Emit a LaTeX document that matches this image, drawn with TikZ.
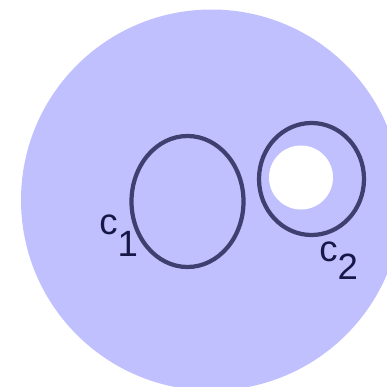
\documentclass[tikz,border=0pt]{standalone}
\usepackage{fontspec}
\setmainfont{Liberation Sans}
\definecolor{discFill}{RGB}{192,192,255}
\definecolor{ringLine}{RGB}{64,64,112}
\definecolor{labelInk}{RGB}{24,24,72}
\tikzset{
  ring/.style={draw=ringLine, line width=3pt},
  lab/.style={font=\fontsize{26}{28}\selectfont, text=labelInk, inner sep=0pt, anchor=base west},
}
\begin{document}
\begin{tikzpicture}[x=0.025cm, y=-0.025cm]
\useasboundingbox (0,0) rectangle (387,387);
\clip (0,0) rectangle (387,387);

% big disc
\fill[discFill] (211.5,200) circle (190.5);

% curve c1
\draw[ring] (187.5,201.5) ellipse [x radius=56, y radius=65.5];
\node[lab] (c1) at (99,234) {c\raisebox{-0.62em}{1}};

% curve c2 with hole
\fill[white] (301,177.5) circle (32);
\draw[ring] (311.5,179) ellipse [x radius=52.5, y radius=56];
\node[lab] (c2) at (319,261) {c\raisebox{-0.5em}{2}};
\end{tikzpicture}
\end{document}
